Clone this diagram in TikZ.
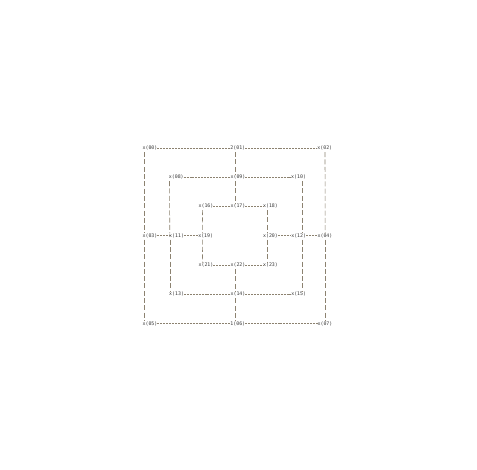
\documentclass[tikz,border=0pt]{standalone}
\usepackage{fontspec}
\setmonofont{DejaVu Sans Mono}
\definecolor{lbl}{RGB}{55,55,55}
\definecolor{lnc}{RGB}{140,130,112}
\begin{document}
\begin{tikzpicture}[x=1pt,y=-1pt,
  pt/.style={inner sep=0pt, outer sep=0pt, font=\ttfamily\fontsize{4.9}{5}\selectfont, text=lbl},
  hl/.style={draw=lnc, line width=0.5pt, dash pattern=on 2pt off 0.94pt},
  vl/.style={draw=lnc, line width=0.6pt, dash pattern=on 5pt off 2.3pt, dash phase=-2pt}]
\useasboundingbox (0,0) rectangle (477,470);
% row 0
\node[pt] (n00) at (150,148) {x(00)};
\node[pt] (n01) at (237.8,148) {2(01)};
\node[pt] (n02) at (324.8,148) {x(02)};
% row 1
\node[pt] (n08) at (176.3,177) {x(08)};
\node[pt] (n09) at (238,177) {x(09)};
\node[pt] (n10) at (298.6,177) {x(10)};
% row 2
\node[pt] (n16) at (206,206) {x(16)};
\node[pt] (n17) at (238,206) {x(17)};
\node[pt] (n18) at (270.5,206) {x(18)};
% row 3
\node[pt] (n03) at (150,235.5) {x(03)};
\node[pt] (n11) at (176.6,235.5) {x(11)};
\node[pt] (n19) at (205.7,235.5) {x(19)};
\node[pt] (n20) at (270.5,235.5) {x(20)};
\node[pt] (n12) at (298.7,235.5) {x(12)};
\node[pt] (n04) at (325,235.5) {x(04)};
% row 4
\node[pt] (n21) at (206,265) {x(21)};
\node[pt] (n22) at (238,265) {x(22)};
\node[pt] (n23) at (270.5,265) {x(23)};
% row 5
\node[pt] (n13) at (176.6,294.3) {x(13)};
\node[pt] (n14) at (238,294.3) {x(14)};
\node[pt] (n15) at (298.7,294.3) {x(15)};
% row 6
\node[pt] (n05) at (150,323.5) {x(05)};
\node[pt] (n06) at (237.8,323.5) {1(06)};
\node[pt] (n07) at (325,323.5) {x(07)};
% horizontal connectors
\draw[hl] (n00) -- (n01); \draw[hl] (n01) -- (n02);
\draw[hl] (n08) -- (n09); \draw[hl] (n09) -- (n10);
\draw[hl] (n16) -- (n17); \draw[hl] (n17) -- (n18);
\draw[hl] (n03) -- (n11); \draw[hl] (n11) -- (n19);
\draw[hl] (n20) -- (n12); \draw[hl] (n12) -- (n04);
\draw[hl] (n21) -- (n22); \draw[hl] (n22) -- (n23);
\draw[hl] (n13) -- (n14); \draw[hl] (n14) -- (n15);
\draw[hl] (n05) -- (n06); \draw[hl] (n06) -- (n07);
% vertical connectors
\draw[vl] ([xshift=-6pt]n00.south) -- ([xshift=-6pt]n03.north);
\draw[vl] ([xshift=-6pt]n03.south) -- ([xshift=-6pt]n05.north);
\draw[vl] ([xshift=-6.8pt]n08.south) -- ([xshift=-6.8pt]n11.north);
\draw[vl] ([xshift=-6.8pt]n11.south) -- ([xshift=-6.8pt]n13.north);
\draw[vl] ([xshift=-3.4pt]n16.south) -- ([xshift=-3.4pt]n19.north);
\draw[vl] ([xshift=-3.4pt]n19.south) -- ([xshift=-3.4pt]n21.north);
\draw[vl] ([xshift=-3pt]n01.south) -- ([xshift=-3.2pt]n09.north);
\draw[vl] ([xshift=-3.2pt]n09.south) -- ([xshift=-3.2pt]n17.north);
\draw[vl] ([xshift=-3.2pt]n22.south) -- ([xshift=-3.2pt]n14.north);
\draw[vl] ([xshift=-3.2pt]n14.south) -- ([xshift=-3pt]n06.north);
\draw[vl] ([xshift=-3.2pt]n18.south) -- ([xshift=-3.2pt]n20.north);
\draw[vl] ([xshift=-3.2pt]n20.south) -- ([xshift=-3.2pt]n23.north);
\draw[vl] ([xshift=3.7pt]n10.south) -- ([xshift=3.6pt]n12.north);
\draw[vl] ([xshift=3.6pt]n12.south) -- ([xshift=3.6pt]n15.north);
\draw[vl] ([xshift=0.2pt]n02.south) -- ([xshift=0.2pt]n04.north);
\draw[vl] ([xshift=0.2pt]n04.south) -- ([xshift=0.2pt]n07.north);
\end{tikzpicture}
\end{document}
